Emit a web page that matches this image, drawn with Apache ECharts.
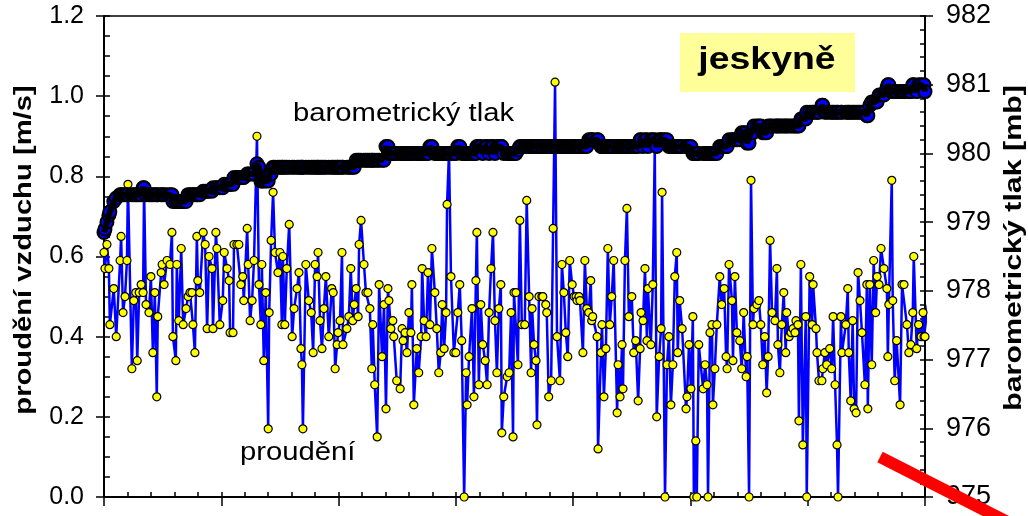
<!DOCTYPE html>
<html>
<head>
<meta charset="utf-8">
<script src="https://cdn.jsdelivr.net/npm/echarts@6/dist/echarts.min.js"></script>
<style>
html,body{margin:0;padding:0;background:#fff;}
#chart{width:1028px;height:516px;}
</style>
</head>
<body>
<div id="chart"></div>
<script>
// time of each reading, hours from start (7 days = 168 h)
const hours = [
0.0,0.2,0.6,1.0,1.2,2.0,2.5,3.3,3.5,3.9,
4.3,4.7,4.9,5.7,6.1,6.5,6.8,7.2,7.6,8.0,
8.2,8.6,9.2,9.6,10.0,10.4,10.8,11.0,11.7,11.9,
12.3,12.9,13.5,13.9,14.1,14.7,14.9,15.3,15.8,16.2,
16.8,17.2,17.6,18.0,18.2,18.6,19.0,19.2,19.6,20.3,
20.7,21.1,21.5,22.1,22.3,22.9,23.1,23.7,24.3,24.6,
25.2,25.6,25.8,26.4,26.6,27.2,27.6,28.0,28.4,28.6,
29.3,29.5,29.9,30.3,30.7,31.3,31.7,32.1,32.3,32.7,
33.1,33.6,33.8,34.2,34.6,35.0,35.6,36.0,36.4,36.6,
37.0,37.4,37.9,38.5,38.9,39.5,39.9,40.3,40.5,40.7,
41.3,41.9,42.4,42.8,43.2,43.6,43.8,44.2,44.6,45.0,
45.4,46.0,46.6,46.9,47.3,47.7,47.9,48.3,48.7,48.9,
49.7,50.1,50.5,50.9,51.2,51.6,52.0,52.2,52.6,53.2,
53.6,54.0,54.4,54.8,55.0,55.4,55.9,56.3,56.9,57.3,
57.7,58.1,58.3,58.7,59.1,59.3,59.9,60.6,61.0,61.2,
61.6,62.0,62.4,62.8,63.0,63.4,64.0,64.4,64.9,65.1,
65.5,65.9,66.3,66.7,67.1,67.7,68.1,68.5,68.9,69.2,
69.6,70.0,70.2,70.6,71.0,71.6,72.0,72.4,72.8,73.2,
73.7,74.1,74.3,74.7,75.3,75.7,76.1,76.3,76.7,77.1,
77.5,78.0,78.4,78.8,79.2,79.6,80.0,80.4,80.8,81.2,
81.4,81.8,82.5,82.9,83.3,83.7,83.9,84.3,84.7,85.1,
85.5,86.1,86.5,87.0,87.4,87.6,88.0,88.4,88.6,89.0,
89.6,89.8,90.4,90.6,91.0,91.5,91.9,92.3,92.7,93.3,
93.7,94.1,94.5,94.9,95.3,95.8,96.2,96.6,96.8,97.2,
97.4,98.0,98.4,98.8,99.2,99.6,99.8,100.0,100.9,101.1,
101.7,101.9,102.3,102.7,103.1,103.5,103.9,104.3,105.0,105.2,
105.6,106.0,106.2,106.6,107.0,107.4,108.0,108.4,108.8,109.3,
109.7,109.9,110.3,110.7,111.1,111.3,111.9,112.3,112.7,113.1,
113.6,114.0,114.2,114.8,115.2,115.6,116.0,116.4,116.8,117.2,
117.4,117.8,118.3,119.1,119.3,119.7,120.1,120.5,120.7,121.1,
121.3,121.7,122.6,123.0,123.4,123.6,124.0,124.4,124.6,125.0,
125.4,126.0,126.4,126.9,127.3,127.5,127.9,128.5,128.7,129.1,
129.5,130.1,130.5,130.9,131.4,131.6,132.0,132.4,132.8,133.0,
133.6,134.0,134.4,134.8,135.2,135.6,135.9,136.3,136.7,137.3,
137.7,137.9,138.3,138.7,139.1,139.5,139.7,140.2,140.6,141.0,
141.4,141.6,142.0,142.2,142.6,143.0,143.6,143.8,144.4,144.9,
145.1,145.7,145.9,146.3,146.9,147.1,147.5,147.9,148.5,148.9,
149.2,149.6,150.0,150.2,150.8,151.0,151.8,152.2,152.4,152.8,
153.2,153.5,153.9,154.3,154.7,155.1,155.7,156.1,156.3,156.7,
157.1,157.5,157.9,158.2,158.6,159.0,159.6,160.2,160.4,160.6,
161.2,161.4,161.8,162.2,162.9,163.3,163.7,164.3,164.7,165.1,
165.5,165.7,166.3,166.7,167.2,167.6,167.8,168.0
];
// air flow [m/s]
const flow = [
.61,.57,.63,.57,.43,.52,.40,.59,.65,.46,
.50,.59,.78,.32,.49,.51,.34,.51,.53,.51,
.77,.48,.46,.55,.36,.51,.25,.45,.56,.58,
.53,.59,.58,.66,.40,.34,.58,.44,.62,.43,
.47,.50,.51,.51,.43,.36,.65,.54,.51,.66,
.63,.42,.60,.57,.42,.66,.62,.43,.49,.61,
.57,.54,.41,.41,.63,.63,.63,.53,.55,.49,
.67,.58,.44,.49,.59,.90,.53,.43,.58,.34,
.51,.17,.46,.64,.76,.61,.56,.61,.43,.60,
.43,.57,.68,.40,.47,.52,.56,.37,.33,.17,
.58,.49,.46,.36,.58,.55,.61,.44,.37,.47,
.55,.40,.52,.51,.32,.38,.41,.44,.61,.38,
.42,.45,.57,.44,.48,.52,.45,.63,.69,.58,
.51,.51,.47,.32,.43,.28,.15,.53,.35,.48,
.22,.52,.49,.42,.44,.40,.29,.27,.42,.39,
.41,.36,.46,.41,.53,.23,.37,.31,.40,.57,
.44,.40,.56,.43,.62,.51,.42,.31,.36,.48,
.37,.46,.73,.86,.55,.36,.36,.46,.53,.39,
0,.31,.23,.35,.47,.25,.54,.66,.28,.48,
.38,.34,.28,.46,.57,.66,.44,.31,.47,.53,
.16,.25,.30,.31,.46,.15,.51,.51,.33,.69,
.43,.43,.74,.50,.31,.47,.38,.34,.18,.50,
.50,.50,.48,.46,.25,.29,.67,1.035,.40,.29,
.58,.51,.41,.35,.59,.53,.50,.50,.49,.50,
.49,.36,.59,.47,.46,.54,.44,.45,.40,.12,
.36,.43,.25,.37,.62,.43,.50,.59,.21,.33,
.25,.38,.27,.59,.72,.45,.50,.36,.39,.24,
.37,.46,.44,.57,.39,.52,.38,.53,.87,.20,
.35,.42,.76,0,.33,.40,.23,.33,.55,.61,
.36,.49,.42,.22,.25,.38,.27,.45,0,.14,
0,.38,.27,.33,.28,0,.41,.43,.23,.32,
.43,.55,.48,.52,.35,.32,.58,.49,.34,.55,
.41,.39,.32,.46,.30,.35,0,.79,.43,.47,
.48,.49,.43,.33,.40,.26,.35,.64,.46,.44,
.57,.38,.31,.43,.51,.36,.46,.40,.41,.42,
.41,.44,.43,.19,.58,.13,.45,0,.55,.43,
.53,.42,.36,.29,.29,.32,.36,.33,.37,.32,
.45,.28,.13,0,.45,.36,.43,.52,.36,.24,
.44,.22,.21,.56,.49,.41,.28,.53,.22,.53,
.33,.59,.46,.55,.53,.62,.57,.52,.35,.48,
.79,.49,.29,.39,.23,.53,.53,.43,.36,.38,
.46,.60,.37,.43,.40,.46,.40,.40
];
// barometric pressure [mb] at the same times
const pressure = [
978.85,978.9,979.0,979.1,979.15,979.3,979.35,979.4,979.4,979.4,
979.4,979.4,979.4,979.4,979.4,979.4,979.4,979.4,979.4,979.5,
979.5,979.4,979.4,979.4,979.4,979.4,979.4,979.4,979.4,979.4,
979.4,979.4,979.4,979.4,979.3,979.3,979.3,979.3,979.3,979.3,
979.3,979.4,979.4,979.4,979.4,979.4,979.4,979.4,979.4,979.45,
979.45,979.45,979.45,979.45,979.5,979.5,979.5,979.5,979.5,979.55,
979.55,979.55,979.55,979.55,979.65,979.65,979.65,979.65,979.65,979.65,
979.7,979.7,979.7,979.7,979.7,979.85,979.8,979.6,979.6,979.6,
979.6,979.6,979.7,979.7,979.8,979.8,979.8,979.8,979.8,979.8,
979.8,979.8,979.8,979.8,979.8,979.8,979.8,979.8,979.8,979.8,
979.8,979.8,979.8,979.8,979.8,979.8,979.8,979.8,979.8,979.8,
979.8,979.8,979.8,979.8,979.8,979.8,979.8,979.8,979.8,979.8,
979.8,979.8,979.8,979.8,979.8,979.9,979.9,979.9,979.9,979.9,
979.9,979.9,979.9,979.9,979.9,979.9,979.9,979.9,979.9,979.9,
980.1,980.1,980.0,980.0,980.0,980.0,980.0,980.0,980.0,980.0,
980.0,980.0,980.0,980.0,980.0,980.0,980.0,980.0,980.0,980.0,
980.0,980.0,980.0,980.1,980.1,980.0,980.0,980.0,980.0,980.0,
980.0,980.0,980.0,980.0,980.0,980.0,980.0,980.1,980.1,980.0,
980.0,980.0,980.0,980.0,980.0,980.0,980.0,980.1,980.1,980.1,
980.0,980.1,980.1,980.0,980.1,980.1,980.0,980.1,980.1,980.1,
980.1,980.0,980.0,980.0,980.0,980.0,980.0,980.0,980.05,980.1,
980.1,980.1,980.1,980.1,980.1,980.1,980.1,980.1,980.1,980.1,
980.1,980.1,980.1,980.1,980.1,980.1,980.1,980.1,980.1,980.1,
980.1,980.1,980.1,980.1,980.1,980.1,980.1,980.1,980.1,980.1,
980.1,980.1,980.1,980.1,980.2,980.2,980.2,980.2,980.2,980.2,
980.1,980.1,980.1,980.1,980.1,980.1,980.1,980.1,980.1,980.1,
980.1,980.1,980.1,980.1,980.1,980.1,980.1,980.1,980.1,980.1,
980.2,980.2,980.1,980.2,980.2,980.1,980.2,980.2,980.2,980.1,
980.2,980.2,980.2,980.2,980.2,980.1,980.1,980.1,980.1,980.1,
980.1,980.1,980.1,980.1,980.1,980.1,980.1,980.0,980.0,980.0,
980.0,980.0,980.0,980.0,980.0,980.0,980.0,980.0,980.0,980.0,
980.0,980.1,980.1,980.1,980.1,980.1,980.2,980.2,980.2,980.2,
980.2,980.2,980.3,980.3,980.3,980.15,980.15,980.3,980.3,980.4,
980.4,980.4,980.4,980.3,980.3,980.3,980.4,980.4,980.4,980.4,
980.4,980.4,980.4,980.4,980.4,980.4,980.4,980.4,980.4,980.4,
980.4,980.4,980.4,980.4,980.5,980.5,980.5,980.6,980.6,980.6,
980.6,980.6,980.6,980.6,980.7,980.7,980.6,980.6,980.6,980.6,
980.6,980.6,980.6,980.6,980.6,980.6,980.6,980.6,980.6,980.6,
980.6,980.6,980.6,980.6,980.6,980.6,980.6,980.55,980.55,980.7,
980.75,980.75,980.75,980.75,980.85,980.85,980.85,980.95,981.0,981.0,
980.9,980.9,980.9,980.9,980.9,980.9,980.9,980.9,980.9,980.9,
981.0,981.0,980.9,981.0,981.0,980.95,981.0,980.9
];
// last flow readings drawn past the axis end (line only)
const tailHours = [168.6, 169.4];
const tailFlow = [0.48, 0.36];

const flowTicks = {min: 0, max: 1.2, interval: 0.2};
const pressTicks = {min: 975, max: 982, interval: 1};
const timeTicks = {min: 0, max: 168, interval: 24};

if (hours.length !== flow.length || hours.length !== pressure.length) {
  console.error('length mismatch', hours.length, flow.length, pressure.length);
}

const FONT = '"Liberation Sans", Arial, sans-serif';

const flowData = hours.map((h, i) => [h, flow[i]]);
tailHours.forEach((h, i) => flowData.push({value: [h, tailFlow[i]], symbol: 'none'}));
const pressData = hours.map((h, i) => [h, pressure[i]]);

const chart = echarts.init(document.getElementById('chart'), null, {renderer: 'canvas'});

const tickLine = {color: '#000', width: 1.5};
const baseY = (t, pos) => ({
  type: 'value', position: pos, min: t.min, max: t.max, interval: t.interval,
  splitLine: {show: false}
});

chart.setOption({
  animation: false,
  backgroundColor: '#fff',
  grid: {left: 104, right: 103, top: 16, bottom: 19, show: true, borderColor: '#000', borderWidth: 1.5, backgroundColor: 'transparent'},
  xAxis: [
    {type: 'value', position: 'bottom', min: timeTicks.min, max: timeTicks.max, interval: timeTicks.interval,
     axisLine: {show: true, onZero: false, lineStyle: {color: '#000', width: 2}},
     axisTick: {show: true, inside: true, length: 5, lineStyle: tickLine},
     minorTick: {show: true, splitNumber: 5, length: 5, lineStyle: tickLine},
     axisLabel: {show: false}, splitLine: {show: false}},
    {type: 'value', position: 'bottom', min: timeTicks.min, max: timeTicks.max, interval: timeTicks.interval,
     axisLine: {show: false, onZero: false},
     axisTick: {show: true, inside: false, length: 9, lineStyle: tickLine},
     axisLabel: {show: false}, splitLine: {show: false}}
  ],
  yAxis: [
    Object.assign(baseY(flowTicks, 'left'), {
      axisLine: {show: true, onZero: false, lineStyle: {color: '#000', width: 2}},
      axisTick: {show: true, inside: true, length: 6, lineStyle: tickLine},
      minorTick: {show: true, splitNumber: 4, length: 6, lineStyle: tickLine},
      axisLabel: {show: true, color: '#000', fontSize: 25, fontFamily: FONT, margin: 20,
                  formatter: v => v.toFixed(1)}
    }),
    Object.assign(baseY(pressTicks, 'right'), {
      axisLine: {show: true, onZero: false, lineStyle: {color: '#000', width: 2}},
      axisTick: {show: true, inside: true, length: 5, lineStyle: tickLine},
      minorTick: {show: true, splitNumber: 5, length: 5, lineStyle: tickLine},
      axisLabel: {show: true, color: '#000', fontSize: 27, fontFamily: FONT, margin: 21}
    }),
    Object.assign(baseY(flowTicks, 'left'), {
      axisLine: {show: false, onZero: false},
      axisTick: {show: true, inside: false, length: 8, lineStyle: tickLine},
      axisLabel: {show: false}
    }),
    Object.assign(baseY(pressTicks, 'right'), {
      axisLine: {show: false, onZero: false},
      axisTick: {show: true, inside: false, length: 8, lineStyle: tickLine},
      axisLabel: {show: false}
    })
  ],
  series: [
    {
      name: 'proudění', type: 'line', xAxisIndex: 0, yAxisIndex: 0, data: flowData,
      clip: false, z: 2,
      symbol: 'circle', symbolSize: 8, showSymbol: true,
      lineStyle: {color: '#0000FF', width: 2.5},
      itemStyle: {color: '#FFFF00', borderColor: '#000', borderWidth: 1.2}
    },
    {
      name: 'barometrický tlak', type: 'line', xAxisIndex: 0, yAxisIndex: 1, data: pressData,
      z: 3,
      symbol: 'circle', symbolSize: 13, showSymbol: true,
      lineStyle: {color: '#000', width: 2},
      itemStyle: {color: '#0000FF', borderColor: '#000', borderWidth: 2}
    },
    {
      name: 'barometrický tlak (jádro)', type: 'line', xAxisIndex: 0, yAxisIndex: 1, data: pressData,
      z: 4, silent: true,
      symbol: 'none', showSymbol: false,
      lineStyle: {color: '#000', width: 6}
    }
  ],
  graphic: [
    {type: 'rect', shape: {x: 680, y: 33, width: 175, height: 59}, style: {fill: '#FFFF99'}, z: 10},
    {type: 'text', x: 767, y: 60, scaleX: 1.17, z: 11,
     style: {text: 'jeskyně', fontSize: 32, fontWeight: 'bold', fontFamily: FONT, fill: '#000', align: 'center', verticalAlign: 'middle'}},
    {type: 'text', x: 293, y: 114, scaleX: 1.17, z: 11,
     style: {text: 'barometrický tlak', fontSize: 25, fontFamily: FONT, fill: '#000', align: 'left', verticalAlign: 'middle'}},
    {type: 'text', x: 240, y: 453, scaleX: 1.17, z: 11,
     style: {text: 'proudění', fontSize: 25, fontFamily: FONT, fill: '#000', align: 'left', verticalAlign: 'middle'}},
    {type: 'text', x: 25, y: 250, rotation: Math.PI / 2, scaleX: 1.27, z: 11,
     style: {text: 'proudění vzduchu [m/s]', fontSize: 23, fontWeight: 'bold', fontFamily: FONT, fill: '#000', align: 'center', verticalAlign: 'middle'}},
    {type: 'text', x: 1015, y: 248, rotation: Math.PI / 2, scaleX: 1.32, z: 11,
     style: {text: 'barometrický tlak [mb]', fontSize: 23, fontWeight: 'bold', fontFamily: FONT, fill: '#000', align: 'center', verticalAlign: 'middle'}},
    {type: 'line', shape: {x1: 880, y1: 457, x2: 1045, y2: 541}, style: {stroke: '#FF0000', lineWidth: 12}, z: 20}
  ]
});
</script>
</body>
</html>
